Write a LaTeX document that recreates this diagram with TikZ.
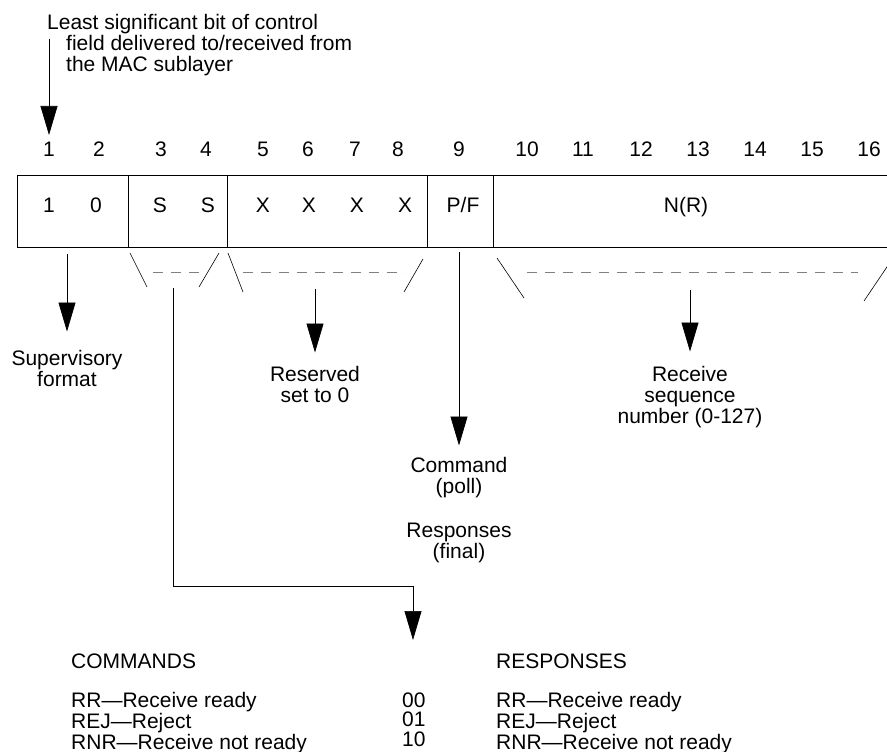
\documentclass[tikz,border=0pt]{standalone}
\usepackage{fontspec}
\setmainfont{Liberation Sans}
\usetikzlibrary{arrows.meta}

\tikzset{
  txt/.style={font=\fontsize{21}{21}\selectfont, inner sep=0pt},
  list/.style={font=\fontsize{21}{19.5}\selectfont, inner sep=0pt, align=left},
  field/.style={draw, line width=0.9pt, minimum height=72pt, anchor=north west, inner sep=0pt},
  pointer/.style={-{Triangle[length=29pt,width=17pt]}, line width=0.7pt},
  slash/.style={line width=0.6pt},
  gap/.style={line width=0.6pt, gray, dash pattern=on 10pt off 8pt},
}

\begin{document}
\begin{tikzpicture}[x=1pt,y=-1pt]
  \useasboundingbox (0,0) rectangle (887,752);
  \clip (0,0) rectangle (887,752);

  % control field
  \node[field, minimum width=111pt] (f1) at (17,175) {};
  \node[field, minimum width=99pt] (f2) at (128,175) {};
  \node[field, minimum width=200pt] (f3) at (227,175) {};
  \node[field, minimum width=66pt] (f4) at (427,175) {};
  \node[field, minimum width=410pt] (f5) at (493,175) {};

  \foreach \x [count=\i] in {49,99,161,206,263,308,355,398,459,527,583,641,698,755,812,869}
    \node[txt, anchor=mid] (b\i) at (\x,154) {\i};

  \foreach \x/\t [count=\i] in {49/1,96/0,160/S,208/S,263/X,309/X,357/X,405/X}
    \node[txt, anchor=mid] (c\i) at (\x,210) {\t};
  \node[txt, anchor=mid] (pf) at (463,210) {P/F};
  \node[txt, anchor=mid] (nr) at (686,210) {N(R)};

  % note on bit 1
  \node[txt, anchor=north west, align=left] (lsb) at (47,14.5)
    {Least significant bit of control\\\hspace*{19pt}field delivered to/received from\\\hspace*{19pt}the MAC sublayer};
  \coordinate (lsbend) at (49,39);
  \draw[pointer, shorten >=7pt] (lsbend) -- (b1.north);

  % brackets
  \draw[slash] (130,253) -- (147,287) (219,253) -- (199,287);
  \draw[gap] (153,272) -- (205,272);
  \draw[slash] (228,253) -- (243,292) (423,259) -- (404,292);
  \draw[gap] (243,272) -- (405,272);
  \draw[slash] (497,258) -- (524,298) (893,258) -- (864,301);
  \draw[gap] (527,272) -- (858,272);

  \node[txt, anchor=north, align=center] (fmt) at (67,350.5) {Supervisory\\format};
  \node[txt, anchor=north, align=center] (rsv) at (315,366.5) {Reserved\\set to 0};
  \node[txt, anchor=north, align=center] (seq) at (690,366.5) {Receive\\sequence\\number (0-127)};
  \node[txt, anchor=north, align=center] (cmd) at (459,457.5) {Command\\(poll)};
  \node[txt, anchor=north, align=center] (rsp) at (459,522.5) {Responses\\(final)};

  \coordinate (fmttop) at (67,254);
  \coordinate (rsvtop) at (315,289);
  \coordinate (pftop) at (459,252);
  \coordinate (seqtop) at (690,290);
  \draw[pointer, shorten >=19pt] (fmttop) -- (fmt.north);
  \draw[pointer, shorten >=14pt] (rsvtop) -- (rsv.north);
  \draw[pointer, shorten >=12pt] (pftop) -- (cmd.north);
  \draw[pointer, shorten >=15pt] (seqtop) -- (seq.north);

  % S bits
  \coordinate (sstop) at (173,288);
  \coordinate (sscorner) at (173,586);
  \coordinate (ssend) at (413,640);
  \draw[pointer] (sstop) -- (sscorner) -| (ssend);

  \node[txt, anchor=mid west] (cmdhead) at (71,666) {COMMANDS};
  \node[list, anchor=north west] (cmdlist) at (71,692.5)
    {RR—Receive ready\\REJ—Reject\\RNR—Receive not ready};
  \node[list, anchor=north west] (codes) at (402,692.5) {00\\01\\10};
  \node[txt, anchor=mid west] (rsphead) at (496,666) {RESPONSES};
  \node[list, anchor=north west] (rsplist) at (496,692.5)
    {RR—Receive ready\\REJ—Reject\\RNR—Receive not ready};
\end{tikzpicture}
\end{document}
